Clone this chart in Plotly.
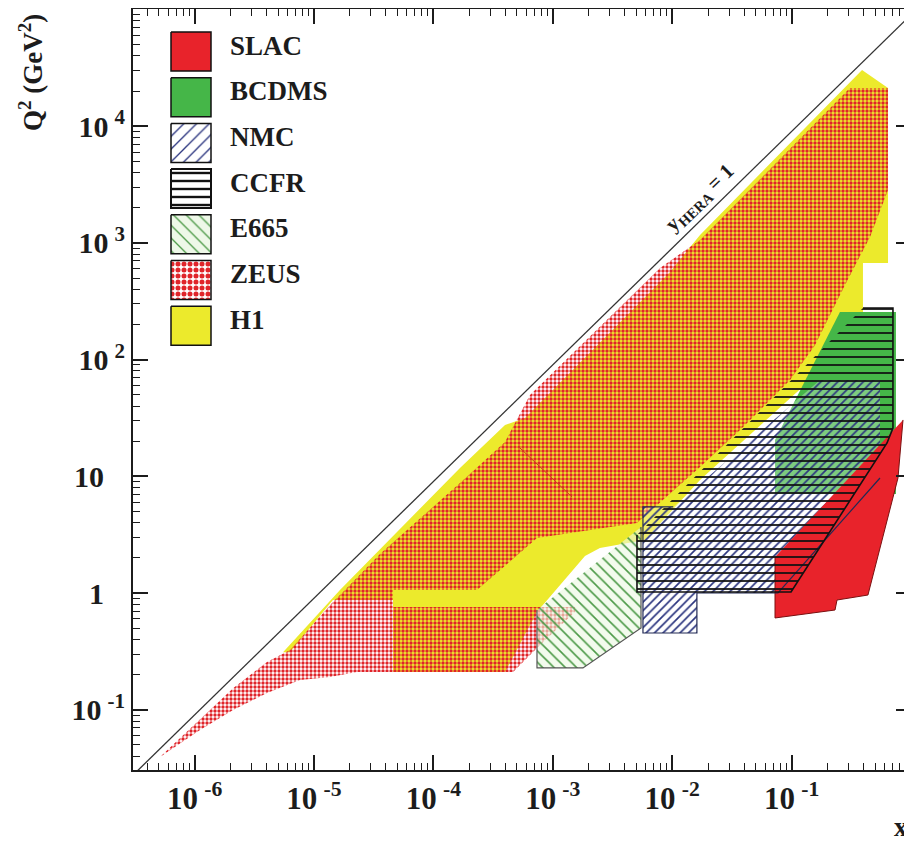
import numpy as np
import plotly.graph_objects as go

# ---------------- data (x, Q^2 in GeV^2) ----------------
S_HERA = 90200.0  # y_HERA = 1 line: Q2 = s * x

H1_x = [5.5e-6, 1.65e-5, 1.67e-4, 3.98e-4, 5.85e-4, 9.6e-3, 1.71e-2, 0.389, 0.642, 0.642,
        0.396, 0.396, 0.129, 0.0171, 5.9e-3, 2.48e-3, 1.86e-3, 9.12e-4, 7.37e-4, 3.98e-4,
        4.59e-5, 4.59e-5, 1.44e-5, 6.3e-6]
H1_q2 = [0.31, 1.06, 11.8, 27.5, 31.6, 564, 1170, 30300, 21200, 673,
         673, 227, 60.6, 9.3, 2.84, 2.43, 2.08, 0.871, 0.687, 0.21,
         0.21, 0.87, 0.87, 0.31]

ZEUS_x = [5.13e-7, 2.1e-6, 4.04e-6, 6.3e-6, 1.44e-5, 1.82e-5, 3.57e-5, 1.67e-4, 3.98e-4, 6.44e-4,
          7.91e-3, 1.71e-2, 0.308, 0.642, 0.642, 0.454, 0.280, 0.157, 0.097, 0.037,
          0.0171, 5.07e-3, 7.37e-4, 2.32e-4, 4.59e-5, 4.59e-5, 1.53e-3, 1.53e-3, 7.81e-4, 4.65e-4,
          2.29e-5, 1.36e-5, 7.63e-6, 4.04e-6, 2.1e-6, 1.11e-6]
ZEUS_q2 = [0.0394, 0.153, 0.256, 0.325, 0.837, 1.06, 2.16, 8.76, 19.7, 49.7,
           610, 1060, 21200, 21200, 2840, 1124, 436, 133, 66.8, 24.9,
           12.0, 3.98, 2.96, 1.06, 1.06, 0.759, 0.759, 0.687, 0.358, 0.21,
           0.21, 0.191, 0.18, 0.139, 0.0994, 0.067]
ZEUS_edge_x = [5.21e-4, 1.45e-3]
ZEUS_edge_q2 = [17.8, 6.65]

BCDMS_x = [7.26e-2, 7.26e-2, 0.254, 0.748, 0.748]
BCDMS_q2 = [7.05, 20.5, 256, 256, 7.05]

SLAC_x = [7.26e-2, 7.26e-2, 0.231, 0.24, 0.436, 0.778, 0.857]
SLAC_q2 = [2.03, 0.611, 0.715, 0.871, 0.961, 9.67, 30.4]

E665_x = [7.37e-4, 7.37e-4, 1.79e-3, 5.48e-3, 5.48e-3]
E665_q2 = [0.715, 0.228, 0.228, 0.501, 3.68]

NMC_x = [5.69e-3, 5.69e-3, 1.61e-2, 1.61e-2, 7.69e-2, 0.55, 0.55, 0.173, 1.02e-2]
NMC_q2 = [5.46, 0.454, 0.454, 1.0, 1.0, 9.67, 66.8, 66.8, 5.46]

CCFR_x = [5.07e-3, 5.07e-3, 9.89e-2, 0.63, 0.706, 0.706, 0.396]
CCFR_q2 = [3.14, 1.02, 1.02, 19.3, 25.9, 277, 277]

X_TICKS = [1e-6, 1e-5, 1e-4, 1e-3, 1e-2, 1e-1, 1]
X_TICKTEXT = ["10\u2009<sup>-6</sup>", "10\u2009<sup>-5</sup>", "10\u2009<sup>-4</sup>",
              "10\u2009<sup>-3</sup>", "10\u2009<sup>-2</sup>", "10\u2009<sup>-1</sup>", "1"]
Y_TICKS = [0.1, 1, 10, 100, 1000, 10000]
Y_TICKTEXT = ["10\u2009<sup>-1</sup>", "1<sup>\u2007\u2007</sup>", "10<sup>\u2007\u2007</sup>",
              "10\u2009<sup>2</sup>", "10\u2009<sup>3</sup>", "10\u2009<sup>4</sup>"]

LEGEND_NAMES = ["SLAC", "BCDMS", "NMC", "CCFR", "E665", "ZEUS", "H1"]

# ---------------- styles ----------------
FONT = "Liberation Serif, Times New Roman, serif"
INK = "#1c1c1c"
RED = "#e8232b"
GREEN = "#45b648"
YELLOW = "#ecea2c"
ZEUS_RED = "#e0242a"
NMC_BLUE = "#2c3680"
E665_GREEN = "#4d9a48"


def pat(shape, fg, bg, size, solidity):
    return dict(shape=shape, fgcolor=fg, bgcolor=bg, size=size, solidity=solidity, fgopacity=1)


STYLE = {
    "H1": dict(fillcolor=YELLOW, line=dict(width=0)),
    "ZEUS": dict(fillcolor="rgba(0,0,0,0)", line=dict(width=0),
                 fillpattern=pat(".", ZEUS_RED, "rgba(0,0,0,0)", 4, 0.55)),
    "BCDMS": dict(fillcolor=GREEN, line=dict(width=0)),
    "SLAC": dict(fillcolor=RED, line=dict(width=1, color="#7a1010")),
    "E665": dict(fillcolor="rgba(235,248,225,0.6)", line=dict(width=1.2, color="#555555"),
                 fillpattern=pat("\\", E665_GREEN, "rgba(235,248,225,0.6)", 8, 0.2)),
    "NMC": dict(fillcolor="rgba(255,255,255,0.3)", line=dict(width=0),
                fillpattern=pat("/", NMC_BLUE, "rgba(255,255,255,0.3)", 6, 0.28)),
    "CCFR": dict(fillcolor="rgba(0,0,0,0)", line=dict(width=1.6, color="#111111"),
                 fillpattern=pat("-", "#111111", "rgba(0,0,0,0)", 8, 0.22)),
}

fig = go.Figure()


def region(x, q2, name):
    fig.add_trace(go.Scatter(x=x, y=q2, mode="lines", fill="toself", name=name,
                             hoverinfo="name", **STYLE[name]))


region(H1_x, H1_q2, "H1")
region(ZEUS_x, ZEUS_q2, "ZEUS")
fig.add_trace(go.Scatter(x=ZEUS_edge_x, y=ZEUS_edge_q2, mode="lines",
                         line=dict(color="#c8401a", width=1), hoverinfo="skip"))
region(BCDMS_x, BCDMS_q2, "BCDMS")
region(E665_x, E665_q2, "E665")
region(NMC_x, NMC_q2, "NMC")
region(SLAC_x, SLAC_q2, "SLAC")
# visible NMC outline (left box and lower-right edge)
fig.add_trace(go.Scatter(x=NMC_x[-1:] + NMC_x[:6], y=NMC_q2[-1:] + NMC_q2[:6], mode="lines",
                         line=dict(color="#222a55", width=1.2), hoverinfo="skip"))
region(CCFR_x, CCFR_q2, "CCFR")

# kinematic limit y = 1
xl = np.array([2e-7, 1.2])
fig.add_trace(go.Scatter(x=xl, y=S_HERA * xl, mode="lines",
                         line=dict(color="#333333", width=1.3), hoverinfo="skip"))

# ---------------- layout geometry (page pixels; page body has an 8 px margin) ----------------
OFF = 8
W, H = 904, 833
PL, PR, PT, PB = 133, 911, 9, 770


def fx(px):
    return (px - PL) / (PR - PL)


def fy(py):
    return (PB - py) / (PB - PT)


# legend swatches on an overlay axis (supports patterns)
SW_X0, SW_X1, SW_TOP0, SW_PITCH, SW_H = 171, 211, 32, 45.7, 39
LEGEND_PATTERNS = {
    "ZEUS": ("white", pat(".", ZEUS_RED, "white", 6, 0.55)),
    "NMC": ("white", pat("/", NMC_BLUE, "white", 9, 0.15)),
    "CCFR": ("white", pat("-", "#111111", "white", 8, 0.3)),
    "E665": ("#eef8e8", pat("\\", E665_GREEN, "#eef8e8", 9, 0.15)),
}
annotations = []
for i, name in enumerate(LEGEND_NAMES):
    top = SW_TOP0 + i * SW_PITCH
    bot = top + SW_H
    st = dict(STYLE[name])
    st["line"] = dict(width=2 if name == "CCFR" else 1.5, color="#111111")
    if name in LEGEND_PATTERNS:
        st["fillcolor"], st["fillpattern"] = LEGEND_PATTERNS[name]
    fig.add_trace(go.Scatter(
        x=[fx(SW_X0), fx(SW_X1), fx(SW_X1), fx(SW_X0), fx(SW_X0)],
        y=[fy(top), fy(top), fy(bot), fy(bot), fy(top)],
        mode="lines", fill="toself", xaxis="x2", yaxis="y2", hoverinfo="skip", **st))
    annotations.append(dict(x=fx(228), y=fy((top + bot) / 2 - 6), xref="paper", yref="paper",
                            text=f"<b>{name}</b>", showarrow=False, xanchor="left", yanchor="middle",
                            font=dict(family=FONT, size=27, color=INK)))

annotations += [
    dict(x=fx(31), y=fy(73), xref="paper", yref="paper", textangle=-90,
         xanchor="center", yanchor="middle",
         text="<b>Q<sup>2</sup> (GeV<sup>2</sup>)</b>", showarrow=False,
         font=dict(family=FONT, size=27, color=INK)),
    dict(x=fx(901), y=fy(827), xref="paper", yref="paper", text="<b>x</b>", showarrow=False,
         xanchor="center", yanchor="middle",
         font=dict(family=FONT, size=27, color=INK)),
    dict(x=np.log10(0.0171), y=np.log10(2430), xref="x", yref="y", textangle=-44,
         xanchor="center", yanchor="middle",
         text="<b>y<sub>HERA</sub> = 1</b>", showarrow=False,
         font=dict(family=FONT, size=21, color=INK)),
]

x_lo = (PL - 911) / 119.4
x_hi = (PR - 911) / 119.4
y_lo = (593 - PB) / 116.7
y_hi = (593 - PT) / 116.7
x_minor = [k * 10.0 ** e for e in range(-7, 1) for k in range(2, 10)
           if 10 ** x_lo <= k * 10.0 ** e <= 10 ** x_hi]
y_minor = [k * 10.0 ** e for e in range(-2, 6) for k in range(2, 10)
           if 10 ** y_lo <= k * 10.0 ** e <= 10 ** y_hi]

axis_common = dict(type="log", showgrid=False, zeroline=False, showline=True, linewidth=2,
                   linecolor=INK, mirror="ticks", ticks="inside", ticklen=15, tickwidth=1.5,
                   tickcolor=INK, tickmode="array", automargin=False)

fig.update_layout(
    width=W, height=H,
    margin=dict(l=PL - OFF, r=W - (PR - OFF), t=PT - OFF, b=H - (PB - OFF), pad=0, autoexpand=False),
    plot_bgcolor="white", paper_bgcolor="white", showlegend=False,
    xaxis=dict(range=[x_lo, x_hi], tickvals=X_TICKS, ticktext=X_TICKTEXT,
               tickfont=dict(family=FONT, size=31, color=INK, weight="bold"),
               minor=dict(tickmode="array", tickvals=x_minor, ticks="inside", ticklen=7,
                          tickwidth=1, tickcolor=INK, showgrid=False),
               **axis_common),
    yaxis=dict(range=[y_lo, y_hi], tickvals=Y_TICKS, ticktext=Y_TICKTEXT,
               tickfont=dict(family=FONT, size=30, color=INK, weight="bold"),
               minor=dict(tickmode="array", tickvals=y_minor, ticks="inside", ticklen=7,
                          tickwidth=1, tickcolor=INK, showgrid=False),
               **axis_common),
    xaxis2=dict(overlaying="x", range=[0, 1], visible=False, fixedrange=True),
    yaxis2=dict(overlaying="y", range=[0, 1], visible=False, fixedrange=True),
    annotations=annotations,
)

fig.write_html("out.html")
